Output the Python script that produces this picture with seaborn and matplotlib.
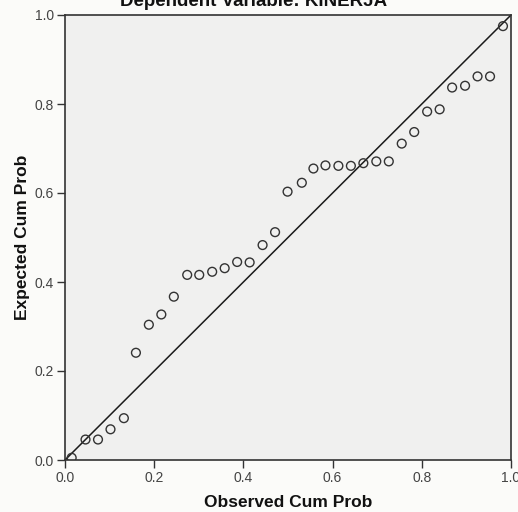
import numpy as np
import pandas as pd
import matplotlib
matplotlib.use("Agg")
import matplotlib.pyplot as plt
import seaborn as sns

# === Data ===
observed = [0.015, 0.046, 0.074, 0.102, 0.132, 0.159, 0.188, 0.216, 0.244, 0.274,
            0.301, 0.330, 0.358, 0.386, 0.414, 0.443, 0.471, 0.499, 0.531, 0.557,
            0.584, 0.613, 0.641, 0.669, 0.698, 0.726, 0.755, 0.783, 0.812, 0.840,
            0.868, 0.897, 0.925, 0.953, 0.982]
expected = [0.005, 0.046, 0.046, 0.069, 0.094, 0.241, 0.304, 0.327, 0.367, 0.416,
            0.416, 0.423, 0.431, 0.445, 0.444, 0.483, 0.512, 0.603, 0.623, 0.655,
            0.662, 0.661, 0.661, 0.667, 0.671, 0.671, 0.711, 0.737, 0.783, 0.788,
            0.837, 0.841, 0.862, 0.862, 0.975]
ref_x = [0.0, 1.0]
ref_y = [0.0, 1.0]
ticks = [0.0, 0.2, 0.4, 0.6, 0.8, 1.0]
tick_labels = ["0.0", "0.2", "0.4", "0.6", "0.8", "1.0"]

title = "Dependent Variable: KINERJA"
xlabel = "Observed Cum Prob"
ylabel = "Expected Cum Prob"

df = pd.DataFrame({"observed": observed, "expected": expected})
ref = pd.DataFrame({"x": ref_x, "y": ref_y})

sns.set_theme(style="white")
plt.rcParams["font.family"] = ["Liberation Sans", "DejaVu Sans"]

fig = plt.figure(figsize=(5.18, 5.12), dpi=100)
fig.patch.set_facecolor("#fbfbf9")
ax = fig.add_axes([65 / 518, 52 / 512, 446 / 518, 445 / 512])
ax.set_facecolor("#f0f0ef")

# diagonal reference line
sns.lineplot(data=ref, x="x", y="y", ax=ax, color="#1a1a1a", linewidth=1.1)

# points
sns.scatterplot(data=df, x="observed", y="expected", ax=ax, marker="o",
                s=40, facecolor="none", edgecolor="#333333", linewidth=1.0,
                zorder=3)

ax.set_xlim(0, 1)
ax.set_ylim(0, 1)
ax.set_xticks(ticks)
ax.set_xticklabels(tick_labels)
ax.set_yticks(ticks)
ax.set_yticklabels(tick_labels)
ax.tick_params(axis="both", direction="out", length=6, width=1,
               color="#333333", labelsize=10, labelcolor="#444444", pad=2,
               bottom=True, left=True)

for sp in ax.spines.values():
    sp.set_color("#333333")
    sp.set_linewidth(1.2)

ax.set_xlabel(xlabel, fontsize=12.5, fontweight="bold", color="#111111", labelpad=7)
ax.set_ylabel(ylabel, fontsize=12.5, fontweight="bold", color="#111111", labelpad=3)

# title sits partly outside the top of the image
fig.text(0.49, 1 - 6 / 512, title, ha="center", va="baseline",
         fontsize=13.5, fontweight="bold", color="#111111")

fig.savefig("out.png", dpi=100, facecolor=fig.get_facecolor())
plt.close(fig)
